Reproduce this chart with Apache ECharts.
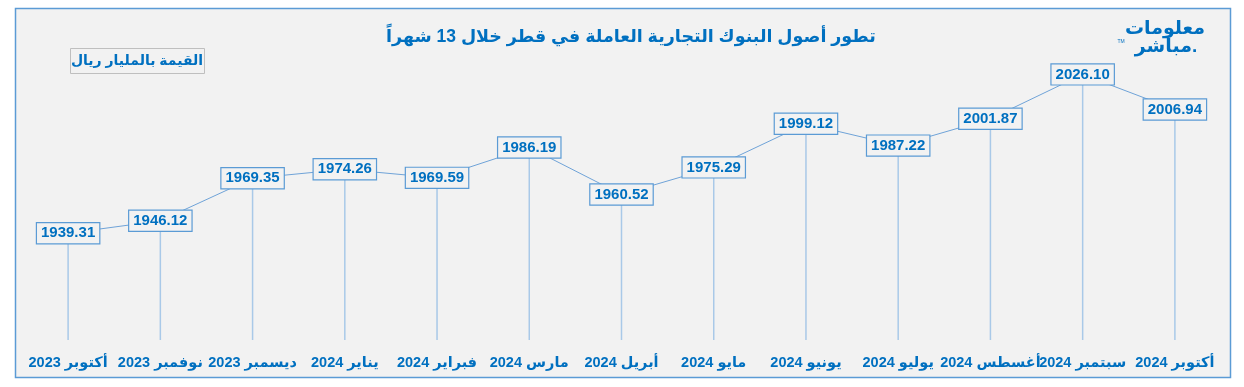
<!DOCTYPE html>
<html>
<head>
<meta charset="utf-8">
<script src="https://cdn.jsdelivr.net/npm/echarts@6/dist/echarts.min.js"></script>
<style>
html,body{margin:0;padding:0;background:#ffffff;}
#c{width:1244px;height:387px;}
</style>
</head>
<body>
<div id="c"></div>
<script>
const categories = ['أكتوبر 2023','نوفمبر 2023','ديسمبر 2023','يناير 2024','فبراير 2024','مارس 2024','أبريل 2024','مايو 2024','يونيو 2024','يوليو 2024','أغسطس 2024','سبتمبر 2024','أكتوبر 2024'];
const assets = [1939.31,1946.12,1969.35,1974.26,1969.59,1986.19,1960.52,1975.29,1999.12,1987.22,2001.87,2026.10,2006.94];
const titleText = 'تطور أصول البنوك التجارية العاملة في قطر خلال 13 شهراً';
const unitText = 'القيمة بالمليار ريال';

const FONT = "'Liberation Sans','DejaVu Sans',Arial,sans-serif";
const BLUE = '#0070c0';
const chart = echarts.init(document.getElementById('c'), null, {renderer:'canvas'});
chart.setOption({
  backgroundColor:'#ffffff',
  animation:false,
  graphic:[
    {type:'rect', z:-10, shape:{x:15.5,y:8.5,width:1215,height:369}, style:{fill:'#f2f2f2', stroke:'#5b9bd5', lineWidth:1.5}},
    {type:'text', x:631, y:37, style:{text:titleText, font:"bold 17.5px "+FONT, fill:BLUE, align:'center', verticalAlign:'middle'}},
    {type:'group', left:70, top:48, children:[
      {type:'rect', shape:{x:0.5,y:0.5,width:134,height:25}, style:{fill:'#f2f2f2', stroke:'#bfbfbf', lineWidth:1}},
      {type:'text', x:67, y:13, style:{text:unitText, font:"bold 14px "+FONT, fill:BLUE, align:'center', verticalAlign:'middle'}}
    ]},
    {type:'text', x:1165, y:29, style:{text:'معلومات', font:"bold 19px "+FONT, fill:BLUE, align:'center', verticalAlign:'middle'}},
    {type:'text', x:1166, y:47, style:{text:'مباشر.', font:"bold 19px "+FONT, fill:BLUE, align:'center', verticalAlign:'middle'}},
    {type:'text', x:1121, y:42, style:{text:'TM', font:"5px "+FONT, fill:BLUE, align:'center', verticalAlign:'middle'}}
  ],
  grid:{left:22, right:23, top:38, bottom:47},
  xAxis:{
    type:'category', data:categories, boundaryGap:true,
    axisLine:{show:false}, axisTick:{show:false}, splitLine:{show:false},
    axisLabel:{color:BLUE, fontFamily:FONT, fontWeight:'bold', fontSize:14.5, margin:15, interval:0}
  },
  yAxis:{type:'value', min:1881, max:2046, show:false, splitLine:{show:false}},
  series:[
    {type:'bar', data:assets, barWidth:1.5, z:1, itemStyle:{color:'#a9c9e8'}, silent:true},
    {type:'line', data:assets, z:3, showSymbol:true, symbol:'circle', symbolSize:1,
     itemStyle:{color:'#6fa3d8'},
     lineStyle:{color:'#6fa3d8', width:1},
     label:{show:true, position:'inside', formatter:p=>p.value.toFixed(2),
       color:BLUE, fontFamily:FONT, fontWeight:'bold', fontSize:15,
       backgroundColor:'#f2f2f2', borderColor:'#5b9bd5', borderWidth:1.2, padding:[3,4,2,4]}
    }
  ]
});
</script>
</body>
</html>
